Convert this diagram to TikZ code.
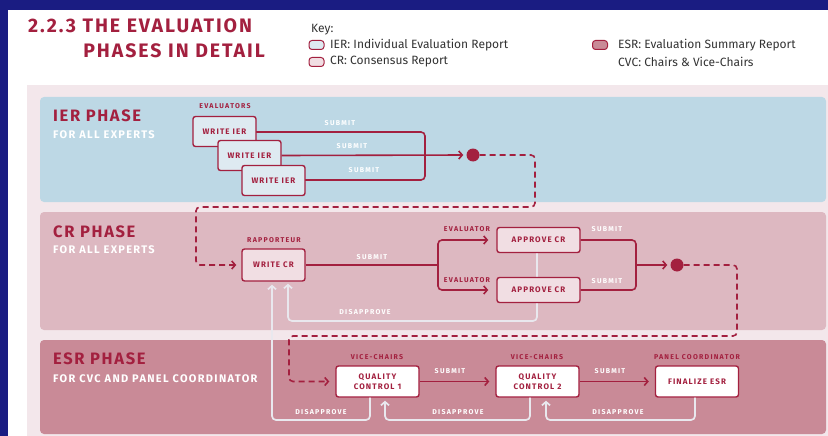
\documentclass[tikz,border=0pt]{standalone}
\usepackage{fontspec}
\setmainfont{Fira Sans}
\newfontfamily\lblfont[LetterSpace=18]{Fira Sans}
\newfontfamily\boxfont[LetterSpace=14]{Fira Sans}
\newfontfamily\subfont[LetterSpace=12]{Fira Sans}
\newfontfamily\ttlfont[LetterSpace=10]{Fira Sans}
\usetikzlibrary{arrows.meta}
\definecolor{crim}{HTML}{A3203F}
\definecolor{bgblue}{HTML}{1A1C82}
\definecolor{outerpink}{HTML}{F3E7EB}
\definecolor{ierpanel}{HTML}{BDD8E5}
\definecolor{crpanel}{HTML}{DDB8C1}
\definecolor{esrpanel}{HTML}{C98A97}
\definecolor{ierfill}{HTML}{DEEAF1}
\definecolor{crfill}{HTML}{F1DEE3}
\definecolor{backline}{HTML}{E9E8EE}
\definecolor{keytext}{HTML}{333333}
\tikzset{
  box/.style={draw=crim, line width=1.4pt, rounded corners=2.5pt, inner sep=0pt,
    font=\boxfont\bfseries\fontsize{8}{10}\selectfont, text=crim, align=center},
  ierbox/.style={box, fill=ierfill, minimum width=63pt, minimum height=30pt},
  crbox/.style={box, fill=crfill, minimum width=83pt, minimum height=25pt},
  crwbox/.style={box, fill=crfill, minimum width=63pt, minimum height=32pt},
  esrbox/.style={box, fill=white, minimum width=83pt, minimum height=31pt},
  lab/.style={font=\lblfont\bfseries\fontsize{7}{8}\selectfont, inner sep=0pt},
  wlab/.style={lab, text=white},
  clab/.style={lab, text=crim},
  flow/.style={draw=crim, line width=1.6pt, rounded corners=4pt},
  dashflow/.style={draw=crim, line width=1.6pt, rounded corners=4pt, dash pattern=on 6pt off 4pt},
  backflow/.style={draw=backline, line width=1.7pt, rounded corners=4pt},
  tip/.style={-{Straight Barb[length=3.5pt,width=8pt]}},
  dotn/.style={circle, fill=crim, minimum size=13pt, inner sep=0pt},
  phase/.style={anchor=west, inner sep=0pt, text=crim, font=\ttlfont\bfseries\fontsize{16.5}{18}\selectfont},
  phasesub/.style={anchor=west, inner sep=0pt, text=white, font=\subfont\bfseries\fontsize{11}{12}\selectfont},
  keyicon/.style={draw=crim, line width=1pt, rounded corners=3pt, minimum width=15pt, minimum height=9pt, inner sep=0pt},
  keytxt/.style={anchor=west, inner sep=0pt, text=keytext, font=\fontsize{12}{14}\selectfont},
}
\begin{document}
\begin{tikzpicture}[x=1pt,y=-1pt]
\useasboundingbox (0,0) rectangle (828,436);
% backgrounds
\fill[bgblue] (0,0) rectangle (828,436);
\fill[white] (8,10) rectangle (828,436);
\fill[outerpink] (27,85) rectangle (828,436);
\fill[ierpanel, rounded corners=4pt] (40,97) rectangle (826,202);
\fill[crpanel, rounded corners=4pt] (40,212) rectangle (826,330);
\fill[esrpanel, rounded corners=4pt] (40,340) rectangle (826,434);

% title
\node[anchor=west, inner sep=0pt, text=crim, font=\ttlfont\bfseries\fontsize{19.5}{22}\selectfont] (t1) at (28,26) {2.2.3 THE EVALUATION};
\node[anchor=east, inner sep=0pt, text=crim, font=\ttlfont\bfseries\fontsize{19.5}{22}\selectfont] (t2) at (265,51) {PHASES IN DETAIL};

% key
\node[keytxt] (key) at (311,30) {Key:};
\node[keyicon, fill=ierfill] (k1) at (316.5,45) {};
\node[keytxt] (k1t) at (330,45) {IER: Individual Evaluation Report};
\node[keyicon, fill=crfill] (k2) at (316.5,62) {};
\node[keytxt] (k2t) at (330,62) {CR: Consensus Report};
\node[keyicon, fill=esrpanel] (k3) at (600,45) {};
\node[keytxt] (k3t) at (618,45) {ESR: Evaluation Summary Report};
\node[keytxt] (k4t) at (618,62) {CVC: Chairs \& Vice-Chairs};

% phase titles
\node[phase] (p1) at (53,116) {IER PHASE};
\node[phasesub] (p1s) at (53,135) {FOR ALL EXPERTS};
\node[phase] (p2) at (53,232) {CR PHASE};
\node[phasesub] (p2s) at (53,250) {FOR ALL EXPERTS};
\node[phase] (p3) at (53,359) {ESR PHASE};
\node[phasesub] (p3s) at (53,379) {FOR CVC AND PANEL COORDINATOR};

% ---- IER phase
\coordinate (j0) at (256,132);
\coordinate (j1) at (425,132);
\coordinate (j2) at (425,180);
\coordinate (j3) at (300,180);
\draw[flow] (j0) -- (j1) -- (j2) -- (j3);
\node[ierbox] (ier1) at (224.5,131.5) {WRITE IER};
\node[ierbox] (ier2) at (249.5,155.5) {WRITE IER};
\node[ierbox] (ier3) at (273.5,180.5) {WRITE IER};
\node[dotn] (dot1) at (473,155) {};
\draw[flow, tip, shorten >=3pt] (ier2.east) -- (dot1.west);
\node[clab] (evs) at (225,106) {EVALUATORS};
\node[wlab] (s1) at (340,123) {SUBMIT};
\node[wlab] (s2) at (352,146) {SUBMIT};
\node[wlab] (s3) at (364,170) {SUBMIT};

% ---- CR phase
\node[crwbox] (wcr) at (273.5,265) {WRITE CR};
% disapprove (behind approve boxes)
\coordinate (d1s) at (537,252);
\coordinate (d1a) at (537,321);
\coordinate (d1b) at (288,321);
\draw[backflow, tip, shorten >=2pt] (d1s) -- (d1a) -- (d1b) -- (wcr.south -| d1b);
\node[crbox] (ap1) at (538.5,240) {APPROVE CR};
\node[crbox] (ap2) at (538.5,290) {APPROVE CR};
\node[dotn] (dot2) at (677,265) {};

\draw[dashflow, tip, shorten >=5pt] (dot1.east) -- (535,155) -- (535,207) -- (196,207) -- (196,265) -- (wcr.west);

\coordinate (split) at (438,265);
\draw[flow] (wcr.east) -- (split);
\draw[flow, tip, shorten >=8pt] (split) |- (ap1.west);
\draw[flow, tip, shorten >=8pt] (split) |- (ap2.west);
\coordinate (m1) at (636,240);
\coordinate (m2) at (636,290);
\coordinate (m3) at (636,265);
\draw[flow] (ap1.east) -- (m1) -- (m2) -- (ap2.east);
\draw[flow, tip, shorten >=3pt] (m3) -- (dot2.west);

\node[clab] (rap) at (274,240) {RAPPORTEUR};
\node[clab] (ev1) at (467,229) {EVALUATOR};
\node[clab] (ev2) at (467,280) {EVALUATOR};
\node[wlab] (s4) at (372,257) {SUBMIT};
\node[wlab] (s5) at (607,229) {SUBMIT};
\node[wlab] (s6) at (607,281) {SUBMIT};
\node[wlab] (dis1) at (365,312) {DISAPPROVE};

% ---- ESR phase
\node[esrbox] (qc1) at (377.5,381.5) {QUALITY\\CONTROL 1};
\node[esrbox] (qc2) at (537.5,381.5) {QUALITY\\CONTROL 2};
\node[esrbox] (fin) at (697,381.5) {FINALIZE ESR};

\draw[dashflow, tip, shorten >=6pt] (dot2.east) -- (737,265) -- (737,336) -- (289,336) -- (289,381.5) -- (qc1.west);

\draw[flow, tip, shorten >=6pt] (qc1.east) -- (qc2.west);
\draw[flow, tip, shorten >=6pt] (qc2.east) -- (fin.west);

\coordinate (b1) at (370,420);
\coordinate (b2) at (272,420);
\draw[backflow, tip, shorten >=3pt] (qc1.south -| b1) -- (b1) -- (b2) -- (wcr.south -| b2);
\coordinate (c1) at (530,420);
\coordinate (c2) at (385,420);
\draw[backflow, tip, shorten >=3pt] (qc2.south -| c1) -- (c1) -- (c2) -- (qc1.south -| c2);
\coordinate (e1) at (695,420);
\coordinate (e2) at (546,420);
\draw[backflow, tip, shorten >=3pt] (fin.south -| e1) -- (e1) -- (e2) -- (qc2.south -| e2);

\node[clab] (vc1) at (377,357) {VICE-CHAIRS};
\node[clab] (vc2) at (537,357) {VICE-CHAIRS};
\node[clab] (pc) at (697,357) {PANEL COORDINATOR};
\node[wlab] (s7) at (450,371) {SUBMIT};
\node[wlab] (s8) at (610,371) {SUBMIT};
\node[wlab] (dis2) at (321,412) {DISAPPROVE};
\node[wlab] (dis3) at (458,412) {DISAPPROVE};
\node[wlab] (dis4) at (618,412) {DISAPPROVE};
\end{tikzpicture}
\end{document}
